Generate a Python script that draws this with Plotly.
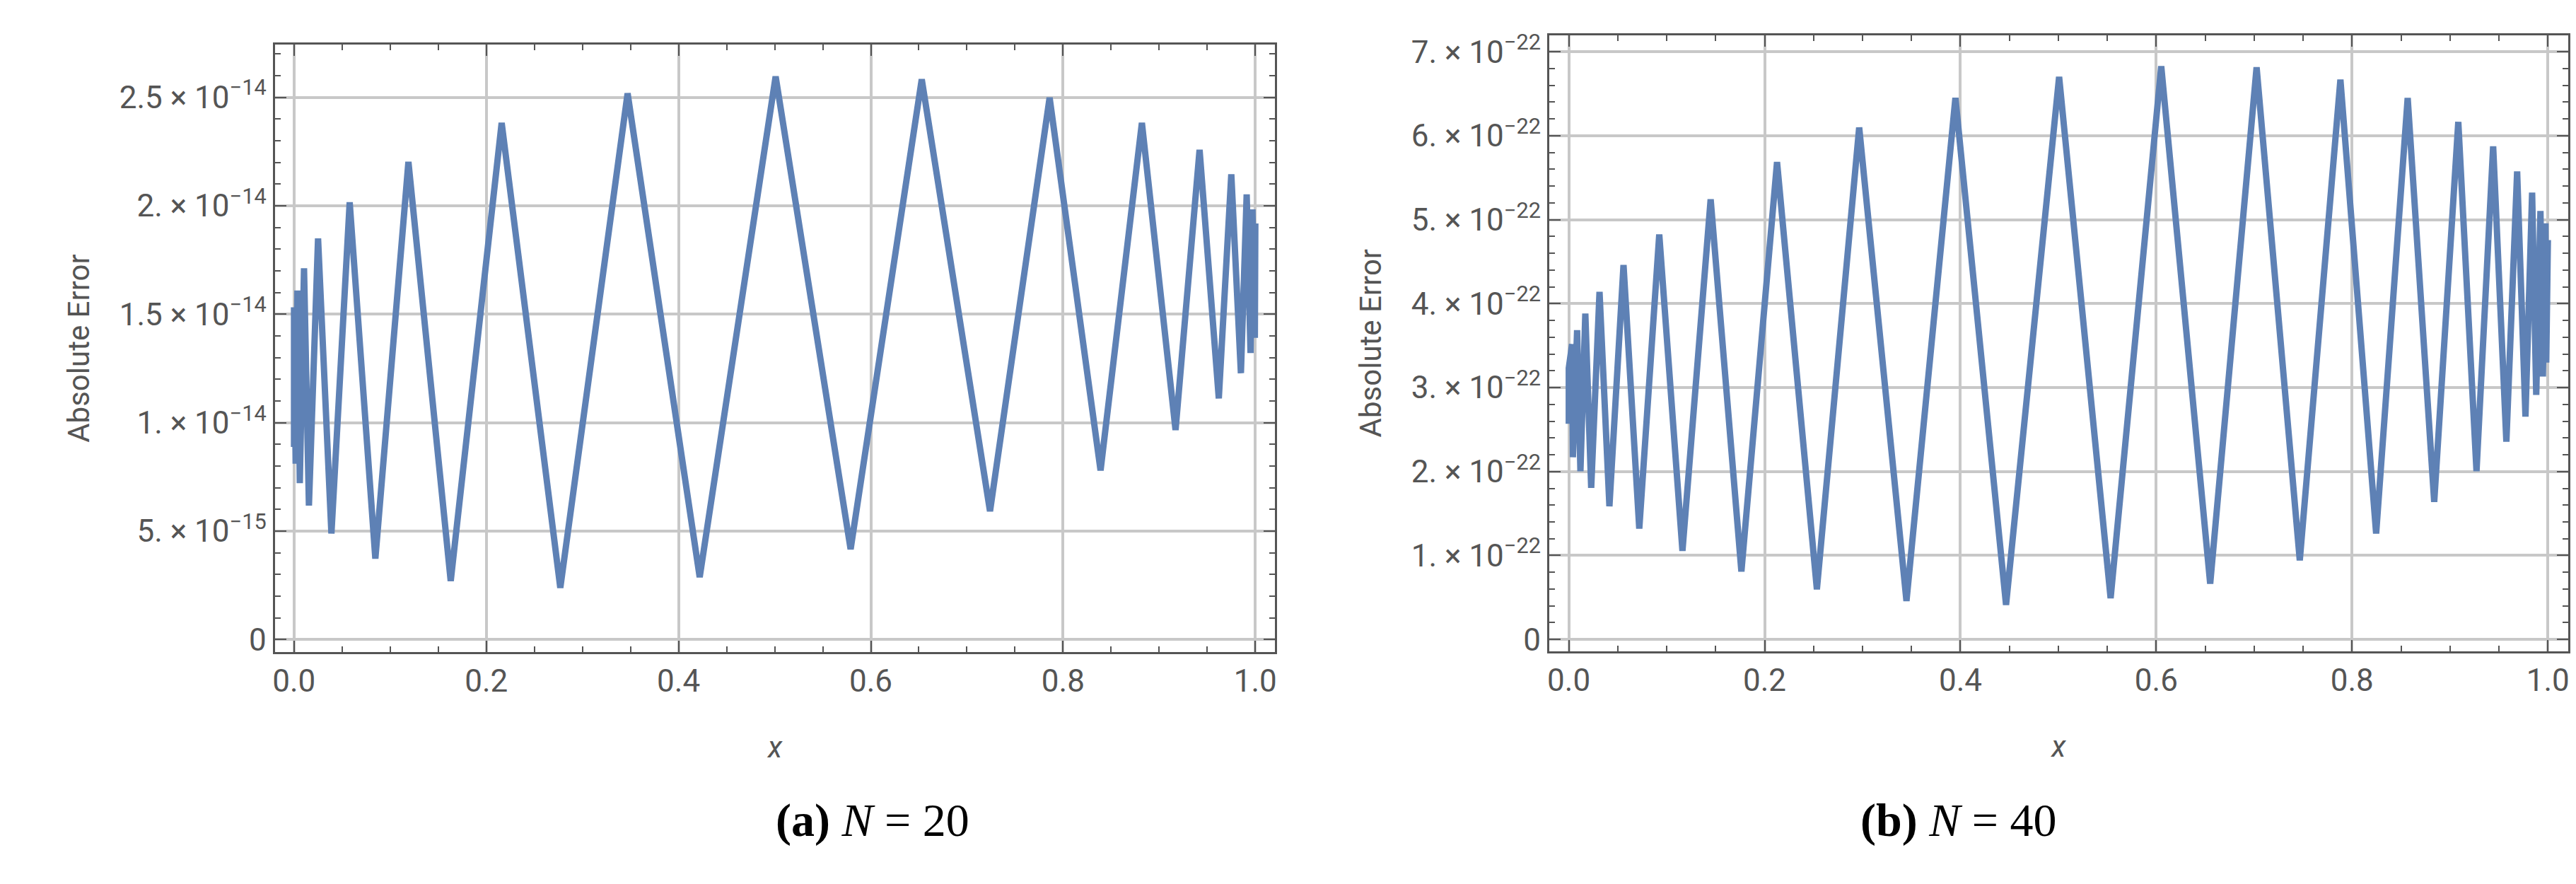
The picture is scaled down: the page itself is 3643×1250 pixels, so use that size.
import plotly.graph_objects as go

# panel (a): N = 20, values in units of 1e-14
x_a = [0.0, 0.0, 0.0017, 0.0035, 0.006, 0.0104, 0.0155, 0.025, 0.0389, 0.0579, 0.0846, 0.119,
       0.163, 0.216, 0.277, 0.347, 0.422, 0.501, 0.579, 0.653, 0.724, 0.786, 0.839, 0.882,
       0.917, 0.942, 0.962, 0.975, 0.985, 0.991, 0.995, 0.997, 0.9995, 1.0]
err_a = [0.888, 1.532, 0.811, 1.609, 0.721, 1.712, 0.618, 1.849, 0.489, 2.016, 0.373, 2.202,
         0.270, 2.382, 0.239, 2.518, 0.288, 2.596, 0.417, 2.583, 0.592, 2.498, 0.780, 2.382,
         0.966, 2.258, 1.112, 2.145, 1.228, 2.052, 1.321, 1.983, 1.391, 1.918]

# panel (b): N = 40, values in units of 1e-22
x_b = [0.0, 0.0, 0.0034, 0.0042, 0.0085, 0.0119, 0.0169, 0.0229, 0.0314, 0.0415, 0.0559, 0.0720,
       0.0924, 0.1161, 0.1449, 0.1763, 0.2127, 0.2534, 0.2966, 0.3449, 0.3949, 0.4466, 0.5008,
       0.5534, 0.6051, 0.6551, 0.7025, 0.7466, 0.7881, 0.8246, 0.8568, 0.8839, 0.9085, 0.9271,
       0.9441, 0.9576, 0.9686, 0.9771, 0.9839, 0.9881, 0.9924, 0.9949, 0.9975, 0.9983, 1.0]
err_b = [2.568, 3.232, 3.517, 2.170, 3.683, 2.004, 3.882, 1.805, 4.141, 1.586, 4.459, 1.320,
         4.824, 1.055, 5.243, 0.810, 5.687, 0.597, 6.098, 0.458, 6.450, 0.412, 6.702,
         0.491, 6.828, 0.664, 6.815, 0.942, 6.669, 1.261, 6.450, 1.639, 6.165, 2.004,
         5.873, 2.356, 5.574, 2.654, 5.322, 2.913, 5.103, 3.132, 4.957, 3.298, 4.758]

ticks_a = [0, 0.5, 1.0, 1.5, 2.0, 2.5]
labels_a = ["0", "5. × 10<sup>−15</sup>", "1. × 10<sup>−14</sup>", "1.5 × 10<sup>−14</sup>",
            "2. × 10<sup>−14</sup>", "2.5 × 10<sup>−14</sup>"]
ticks_b = [0, 1, 2, 3, 4, 5, 6, 7]
labels_b = ["0"] + [f"{k}. × 10<sup>−22</sup>" for k in range(1, 8)]
x_ticks = [0.0, 0.2, 0.4, 0.6, 0.8, 1.0]
x_labels = ["0.0", "0.2", "0.4", "0.6", "0.8", "1.0"]

LINE = "#5E81B5"
GRAY = "#555555"
GRID = "#c8c8c8"
FONT = "Liberation Sans Narrow, Roboto, sans-serif"

fig = go.Figure()
fig.add_trace(go.Scatter(x=x_a, y=err_a, mode="lines", line=dict(color=LINE, width=9),
                         xaxis="x", yaxis="y", showlegend=False))
fig.add_trace(go.Scatter(x=x_b, y=err_b, mode="lines", line=dict(color=LINE, width=9),
                         xaxis="x2", yaxis="y2", showlegend=False))

common_x = dict(range=[-0.02, 1.0207], tickvals=x_ticks, ticktext=x_labels, ticks="inside",
                ticklen=16, tickwidth=2, tickcolor=GRAY, mirror="ticks", showline=True,
                linecolor=GRAY, linewidth=3, showgrid=True, gridcolor=GRID, gridwidth=4,
                zeroline=False, tickfont=dict(size=44, color=GRAY, family=FONT),
                minor=dict(dtick=0.05, tick0=0, ticks="inside", ticklen=8, tickcolor=GRAY,
                           showgrid=False),
                title=dict(text="<i>x</i>", standoff=55,
                           font=dict(size=42, color=GRAY, family=FONT)))
common_y = dict(ticks="inside", ticklen=16, tickwidth=2, tickcolor=GRAY, mirror="ticks",
                showline=True, linecolor=GRAY, linewidth=3, showgrid=True, gridcolor=GRID,
                gridwidth=4, zeroline=False, tickfont=dict(size=44, color=GRAY, family=FONT),
                title=dict(text="Absolute Error", standoff=30,
                           font=dict(size=42, color=GRAY, family=FONT)))

fig.update_layout(
    width=3643, height=1250,
    margin=dict(l=0, r=0, t=0, b=0),
    plot_bgcolor="white", paper_bgcolor="white",
    xaxis=dict(domain=[0.1038, 0.4927], anchor="y", **common_x),
    yaxis=dict(domain=[0.2648, 0.9616], anchor="x", range=[-0.0566, 2.742],
               tickvals=ticks_a, ticktext=labels_a,
               minor=dict(dtick=0.1, tick0=0, ticks="inside", ticklen=8, tickcolor=GRAY,
                          showgrid=False),
               **common_y),
    xaxis2=dict(domain=[0.5992, 0.9953], anchor="y2", **common_x),
    yaxis2=dict(domain=[0.2656, 0.9728], anchor="x2", range=[-0.14, 7.2],
                tickvals=ticks_b, ticktext=labels_b,
                minor=dict(dtick=0.2, tick0=0, ticks="inside", ticklen=8, tickcolor=GRAY,
                           showgrid=False),
                **common_y),
    annotations=[
        dict(text="<b>(a)</b> <i>N</i> = 20", x=0.298, y=0.04, xref="paper", yref="paper",
             showarrow=False, font=dict(size=66, color="black", family="Liberation Serif, serif")),
        dict(text="<b>(b)</b> <i>N</i> = 40", x=0.797, y=0.04, xref="paper", yref="paper",
             showarrow=False, font=dict(size=66, color="black", family="Liberation Serif, serif")),
    ],
)

fig.write_html("out.html")
